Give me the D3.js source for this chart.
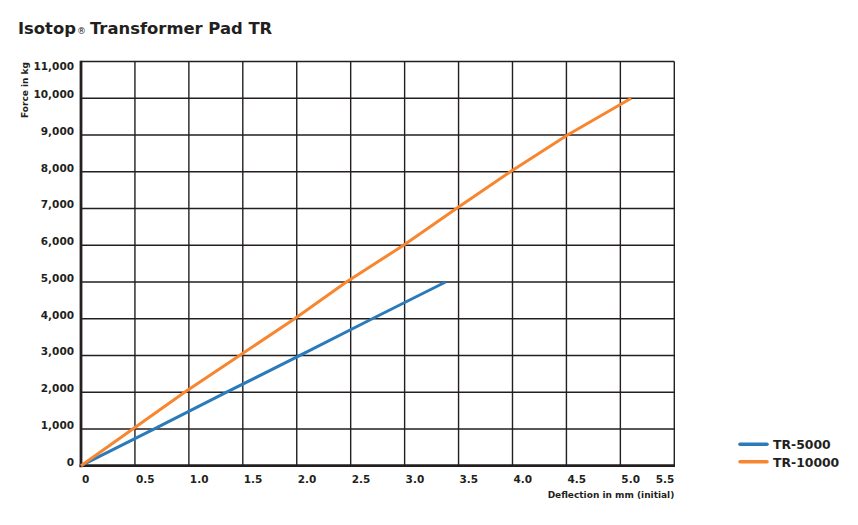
<!DOCTYPE html>
<html lang="en">
<head>
    <meta charset="UTF-8">
    <title>Isotop Transformer Pad TR</title>
    <script src="https://d3js.org/d3.v7.min.js"></script>
    <style>
        body { margin: 0; background: #fff; }
        text { font-family: "DejaVu Sans", sans-serif; font-weight: bold; fill: #231f20; }
    </style>
</head>
<body>
    <svg id="chart"></svg>
    <script>
        // values
        var xTicks = [0, 0.5, 1.0, 1.5, 2.0, 2.5, 3.0, 3.5, 4.0, 4.5, 5.0, 5.5];
        var yTicks = [0, 1000, 2000, 3000, 4000, 5000, 6000, 7000, 8000, 9000, 10000, 11000];
        var seriesNames = ["TR-5000", "TR-10000"];
        var seriesColors = ["#2b7bba", "#f7862f"];
        var force5000 = [0, 1000, 2000, 3000, 4000, 5000];
        var defl5000 = [0, 0.68, 1.35, 2.03, 2.70, 3.38];
        var force10000 = [0, 1000, 2000, 3000, 4000, 5000, 6000, 7000, 8000, 9000, 10000];
        var defl10000 = [0, 0.48, 0.96, 1.47, 1.98, 2.46, 2.99, 3.48, 3.98, 4.51, 5.10];

        var width = 858, height = 525;
        var margin = { top: 61.5, right: 858 - 674.3, bottom: 525 - 465.7, left: 81 };

        var svg = d3.select("#chart")
            .attr("width", width)
            .attr("height", height);

        var x = d3.scaleLinear().domain([0, 5.5]).range([margin.left, width - margin.right]);
        var y = d3.scaleLinear().domain([0, 11000]).range([height - margin.bottom, margin.top]);

        // title
        var title = svg.append("text")
            .attr("x", 18)
            .attr("y", 34)
            .style("font-size", "16.4px")
            .text("Isotop");
        title.append("tspan")
            .style("font-size", "9px")
            .style("font-weight", "normal")
            .attr("dx", 1)
            .text("®");
        title.append("tspan")
            .attr("dx", 4)
            .text("Transformer Pad TR");

        // grid
        svg.append("g")
            .selectAll("line")
            .data(xTicks)
            .join("line")
            .attr("x1", function (d) { return x(d) })
            .attr("x2", function (d) { return x(d) })
            .attr("y1", y(0))
            .attr("y2", y(11000))
            .attr("stroke", "#231f20")
            .attr("stroke-width", 1.4);
        svg.append("g")
            .selectAll("line")
            .data(yTicks)
            .join("line")
            .attr("x1", x(0))
            .attr("x2", x(5.5))
            .attr("y1", function (d) { return y(d) })
            .attr("y2", function (d) { return y(d) })
            .attr("stroke", "#231f20")
            .attr("stroke-width", 1.4);

        // heavier left and bottom axis lines
        svg.append("line")
            .attr("x1", x(0)).attr("x2", x(0))
            .attr("y1", y(11000) - 0.7).attr("y2", y(0) + 1.5)
            .attr("stroke", "#231f20").attr("stroke-width", 2.8);
        svg.append("line")
            .attr("x1", x(0) - 1.4).attr("x2", x(5.5) + 0.7)
            .attr("y1", y(0)).attr("y2", y(0))
            .attr("stroke", "#231f20").attr("stroke-width", 2.8);

        // y tick labels
        var fmt = d3.format(",");
        svg.append("g")
            .selectAll("text")
            .data(yTicks)
            .join("text")
            .attr("x", x(0) - 7)
            .attr("y", function (d) { return d === 11000 ? y(d) + 8 : y(d) }) 
            .attr("text-anchor", "end")
            .style("font-size", "10.5px")
            .text(function (d) { return fmt(d) });

        // x tick labels
        svg.append("g")
            .selectAll("text")
            .data(xTicks)
            .join("text")
            .attr("x", function (d, i) { return i === xTicks.length - 1 ? x(d) : x(d) + 1 })
            .attr("y", y(0) + 17)
            .attr("text-anchor", function (d, i) { return i === xTicks.length - 1 ? "end" : "start" })
            .style("font-size", "10.5px")
            .text(function (d) { return d === 0 ? "0" : d3.format(".1f")(d) });

        // axis titles
        svg.append("text")
            .attr("transform", "translate(28," + 90 + ") rotate(-90)")
            .attr("text-anchor", "middle")
            .style("font-size", "9px")
            .text("Force in kg");
        svg.append("text")
            .attr("x", x(5.5))
            .attr("y", y(0) + 32)
            .attr("text-anchor", "end")
            .style("font-size", "9px")
            .text("Deflection in mm (initial)");

        // lines
        var line = d3.line()
            .x(function (d) { return x(d[0]) })
            .y(function (d) { return y(d[1]) });
        var data = [
            d3.zip(defl5000, force5000),
            d3.zip(defl10000, force10000)
        ];
        svg.append("g")
            .selectAll("path")
            .data(data)
            .join("path")
            .attr("d", line)
            .attr("fill", "none")
            .attr("stroke", function (d, i) { return seriesColors[i] })
            .attr("stroke-width", 3);

        // legend
        var legend = svg.append("g")
            .selectAll("g")
            .data(seriesNames)
            .join("g")
            .attr("transform", function (d, i) { return "translate(740," + (444.3 + i * 17.4) + ")" });
        legend.append("line")
            .attr("x1", 0).attr("x2", 27)
            .attr("stroke", function (d, i) { return seriesColors[i] })
            .attr("stroke-width", 3.5)
            .attr("stroke-linecap", "round");
        legend.append("text")
            .attr("x", 33)
            .attr("y", 5)
            .style("font-size", "12.4px")
            .text(function (d) { return d });
    </script>
</body>
</html>
